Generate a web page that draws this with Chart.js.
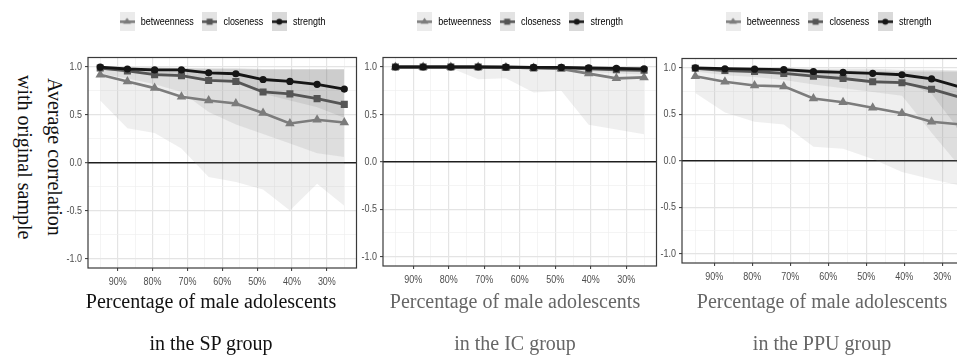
<!DOCTYPE html>
<html>
<head>
<meta charset="utf-8">
<script src="https://cdn.jsdelivr.net/npm/chart.js@4.4.1/dist/chart.umd.min.js"></script>
<style>
  html, body { margin: 0; padding: 0; background: #fff; overflow: hidden; width: 957px; height: 358px; }
  .panel { position: absolute; top: 0; height: 300px; }
  .caption { position: absolute; top: 280px; width: 320px; font-family: "Liberation Serif", "Times New Roman", serif; font-size: 20px; line-height: 42px; text-align: center; }
  #ytitle { position: absolute; left: 10px; top: 22px; width: 60px; height: 270px; writing-mode: vertical-rl; font-family: "Liberation Serif", "Times New Roman", serif; font-size: 20px; line-height: 30px; text-align: center; color: #111; }
</style>
</head>
<body>
<div id="ytitle">Average correlation<br>with original sample</div>
<div class="panel" style="left:0px;width:362px"><canvas id="chart_sp"></canvas></div>
<div class="panel" style="left:300px;width:362px"><canvas id="chart_ic"></canvas></div>
<div class="panel" style="left:620px;width:360px"><canvas id="chart_ppu"></canvas></div>
<div class="caption" style="left:51px;color:#111">Percentage of male adolescents<br>in the SP group</div>
<div class="caption" style="left:355px;color:#666">Percentage of male adolescents<br>in the IC group</div>
<div class="caption" style="left:662px;color:#666">Percentage of male adolescents<br>in the PPU group</div>

<script>
// sampled proportion of cases (bootnet case-dropping, 95% -> 25%)
const casePct = [95, 87.2, 79.4, 71.7, 63.9, 56.1, 48.3, 40.6, 32.8, 25];
const xTickValues = [90, 80, 70, 60, 50, 40, 30];
const xTickLabels = ['90%', '80%', '70%', '60%', '50%', '40%', '30%'];
const xGridValues = [25, 30, 35, 40, 45, 50, 55, 60, 65, 70, 75, 80, 85, 90, 95];
const yTickValues = [-1, -0.5, 0, 0.5, 1];
const yGridValues = [-1, -0.75, -0.5, -0.25, 0, 0.25, 0.5, 0.75, 1];
const measures = ['betweenness', 'closeness', 'strength'];

// SP group
const spBetweenness   = [0.92, 0.85, 0.78, 0.69, 0.65, 0.62, 0.52, 0.41, 0.45, 0.42];
const spBetweennessLo = [0.65, 0.36, 0.31, 0.15, -0.15, -0.20, -0.28, -0.50, -0.22, -0.45];
const spBetweennessHi = [0.99, 0.99, 0.98, 0.98, 0.98, 0.98, 0.98, 0.98, 0.98, 0.98];
const spCloseness     = [0.99, 0.96, 0.92, 0.91, 0.86, 0.85, 0.74, 0.72, 0.67, 0.61];
const spClosenessLo   = [0.93, 0.88, 0.82, 0.74, 0.53, 0.40, 0.30, 0.20, 0.10, 0.06];
const spClosenessHi   = [1.00, 0.99, 0.99, 0.99, 0.98, 0.98, 0.97, 0.97, 0.97, 0.97];
const spStrength      = [1.00, 0.98, 0.97, 0.97, 0.94, 0.93, 0.87, 0.85, 0.82, 0.77];
const spStrengthLo    = [0.97, 0.95, 0.93, 0.91, 0.86, 0.83, 0.72, 0.65, 0.58, 0.47];
const spStrengthHi    = [1.00, 1.00, 1.00, 0.99, 0.99, 0.99, 0.98, 0.98, 0.98, 0.98];

// IC group
const icBetweenness   = [1.00, 1.00, 1.00, 1.00, 0.995, 0.99, 0.98, 0.93, 0.88, 0.89];
const icBetweennessLo = [1.00, 1.00, 0.99, 0.87, 0.88, 0.73, 0.75, 0.39, 0.34, 0.29];
const icBetweennessHi = [1.00, 1.00, 1.00, 1.00, 1.00, 1.00, 1.00, 1.00, 1.00, 1.00];
const icCloseness     = [1.00, 1.00, 1.00, 1.00, 0.995, 0.99, 0.99, 0.98, 0.97, 0.965];
const icClosenessLo   = [1.00, 1.00, 1.00, 0.99, 0.99, 0.98, 0.97, 0.95, 0.93, 0.92];
const icClosenessHi   = [1.00, 1.00, 1.00, 1.00, 1.00, 1.00, 1.00, 1.00, 1.00, 1.00];
const icStrength      = [1.00, 1.00, 1.00, 1.00, 1.00, 0.995, 0.995, 0.99, 0.985, 0.98];
const icStrengthLo    = [1.00, 1.00, 1.00, 0.99, 0.99, 0.99, 0.98, 0.97, 0.96, 0.95];
const icStrengthHi    = [1.00, 1.00, 1.00, 1.00, 1.00, 1.00, 1.00, 1.00, 1.00, 1.00];

// PPU group
const ppuBetweenness   = [0.91, 0.85, 0.81, 0.80, 0.67, 0.63, 0.57, 0.51, 0.42, 0.39];
const ppuBetweennessLo = [0.73, 0.52, 0.42, 0.39, 0.15, 0.13, 0.02, -0.12, -0.20, -0.27];
const ppuBetweennessHi = [0.99, 0.98, 0.97, 0.97, 0.97, 0.97, 0.96, 0.96, 0.96, 0.96];
const ppuCloseness     = [0.995, 0.97, 0.96, 0.94, 0.91, 0.885, 0.85, 0.84, 0.77, 0.68];
const ppuClosenessLo   = [0.96, 0.92, 0.90, 0.87, 0.82, 0.78, 0.74, 0.70, 0.30, -0.08];
const ppuClosenessHi   = [1.00, 0.99, 0.99, 0.98, 0.98, 0.97, 0.97, 0.96, 0.96, 0.96];
const ppuStrength      = [1.00, 0.99, 0.985, 0.98, 0.96, 0.95, 0.94, 0.925, 0.88, 0.79];
const ppuStrengthLo    = [0.98, 0.97, 0.96, 0.95, 0.92, 0.90, 0.88, 0.85, 0.72, 0.30];
const ppuStrengthHi    = [1.00, 1.00, 1.00, 1.00, 0.99, 0.99, 0.99, 0.98, 0.98, 0.97];

const sans = '"Liberation Sans", Arial, sans-serif';
const squeeze = 0.78; // the figure uses a condensed grotesque; no narrow face is installed

// styles per measure
const lineColors = { betweenness: '#7c7c7c', closeness: '#555555', strength: '#161616' };
const bandColors = { betweenness: 'rgba(150,150,150,0.15)', closeness: 'rgba(110,110,110,0.13)', strength: 'rgba(60,60,60,0.12)' };
const keyColors  = { betweenness: '#ebebeb', closeness: '#e3e3e3', strength: '#d9d9d9' };
const markers    = { betweenness: ['triangle', 5.5], closeness: ['rect', 5], strength: ['circle', 3.6] };
const lineOrder  = { betweenness: 3, closeness: 2, strength: 1 };

// legend key: grey ribbon box with line + marker, like ggplot
function keyImage(m) {
  const c = document.createElement('canvas');
  c.width = 15; c.height = 19;
  const g = c.getContext('2d');
  g.fillStyle = keyColors[m];
  g.fillRect(0, 0, 15, 19);
  g.strokeStyle = lineColors[m];
  g.lineWidth = 2.5;
  g.beginPath(); g.moveTo(0, 9.5); g.lineTo(15, 9.5); g.stroke();
  g.fillStyle = lineColors[m];
  g.beginPath();
  if (m === 'betweenness') { g.moveTo(7.5, 5.5); g.lineTo(11.5, 11.5); g.lineTo(3.5, 11.5); g.closePath(); }
  else if (m === 'closeness') { g.rect(4.5, 6.5, 6, 6); }
  else { g.arc(7.5, 9.5, 3, 0, Math.PI * 2); }
  g.fill();
  return c;
}
const keyImages = measures.map(keyImage);

function pts(ys) { return casePct.map((x, i) => ({ x, y: ys[i] })); }

function buildDatasets(series) {
  const ds = [];
  measures.forEach(m => {
    const s = series[m];
    ds.push({ data: pts(s.lo), xAxisID: 'x', yAxisID: 'y', borderWidth: 0, pointRadius: 0, fill: false, order: 10 });
    ds.push({ data: pts(s.hi), xAxisID: 'x', yAxisID: 'y', borderWidth: 0, pointRadius: 0, fill: '-1', backgroundColor: bandColors[m], order: 10 });
  });
  measures.forEach(m => {
    const s = series[m];
    ds.push({
      label: m, data: pts(s.mean), xAxisID: 'x', yAxisID: 'y',
      borderColor: lineColors[m], backgroundColor: lineColors[m],
      borderWidth: m === 'betweenness' ? 2.6 : 2.8,
      pointStyle: markers[m][0], pointRadius: markers[m][1], pointBorderWidth: 0,
      fill: false, tension: 0, order: lineOrder[m]
    });
  });
  return ds;
}

// condensed sans text: squeeze glyphs horizontally around their anchor
const condensedPlugin = {
  id: 'condensed',
  beforeInit(chart) {
    const ctx = chart.ctx;
    const fill = ctx.fillText.bind(ctx);
    const measure = ctx.measureText.bind(ctx);
    ctx.fillText = (t, x, y, w) => {
      ctx.save(); ctx.translate(x, y); ctx.scale(squeeze, 1); fill(t, 0, 0); ctx.restore();
    };
    ctx.measureText = t => {
      const m = measure(t);
      return { width: m.width * squeeze, actualBoundingBoxAscent: m.actualBoundingBoxAscent, actualBoundingBoxDescent: m.actualBoundingBoxDescent };
    };
  }
};

const framePlugin = {
  id: 'frame',
  afterDatasetsDraw(chart) {
    const { ctx, chartArea: a } = chart;
    ctx.save();
    ctx.strokeStyle = '#3a3a3a';
    ctx.lineWidth = 1.2;
    ctx.strokeRect(a.left, a.top, a.right - a.left, a.bottom - a.top);
    ctx.restore();
  }
};

function makeChart(id, series, geo) {
  return new Chart(document.getElementById(id), {
    type: 'line',
    data: { datasets: buildDatasets(series) },
    plugins: [condensedPlugin, framePlugin],
    options: {
      responsive: true,
      maintainAspectRatio: false,
      animation: false,
      layout: { padding: { top: 8, right: geo.padRight, bottom: 0, left: 0 } },
      plugins: {
        tooltip: { enabled: false },
        legend: {
          position: 'top',
          fullSize: false,
          labels: {
            usePointStyle: true,
            pointStyleWidth: 16,
            padding: 8,
            color: '#1a1a1a',
            font: { family: sans, size: 11.5 },
            generateLabels: () => measures.map((m, i) => ({
              text: m, pointStyle: keyImages[i], fillStyle: 'transparent',
              strokeStyle: 'transparent', lineWidth: 0, hidden: false
            }))
          }
        }
      },
      scales: {
        x: {
          type: 'linear', position: 'bottom', reverse: true, min: 21.5, max: 98.5,
          afterBuildTicks: s => { s.ticks = xGridValues.map(v => ({ value: v })); },
          afterFit: s => { s.height = geo.xHeight; },
          border: { display: false },
          grid: {
            color: c => xTickValues.includes(c.tick.value) ? '#e4e4e4' : '#efefef',
            lineWidth: c => xTickValues.includes(c.tick.value) ? 1.2 : 0.7,
            tickColor: c => xTickValues.includes(c.tick.value) ? '#333' : 'rgba(0,0,0,0)',
            tickLength: 3, tickWidth: 1
          },
          ticks: {
            autoSkip: false, maxRotation: 0, padding: 4,
            color: '#4d4d4d', font: { family: sans, size: 11.5 },
            callback: v => { const i = xTickValues.indexOf(v); return i >= 0 ? xTickLabels[i] : ''; }
          }
        },
        y: {
          type: 'linear', position: 'left', min: -1.1, max: 1.1,
          afterBuildTicks: s => { s.ticks = yGridValues.map(v => ({ value: v })); },
          afterFit: s => { s.width = geo.yWidth; },
          border: { display: false },
          grid: {
            color: c => c.tick.value === 0 ? '#1e1e1e' : (yTickValues.includes(c.tick.value) ? '#e4e4e4' : '#efefef'),
            lineWidth: c => c.tick.value === 0 ? 1.4 : (yTickValues.includes(c.tick.value) ? 1.2 : 0.7),
            tickColor: c => yTickValues.includes(c.tick.value) ? '#333' : 'rgba(0,0,0,0)',
            tickLength: 3, tickWidth: 1
          },
          ticks: {
            padding: 3, color: '#4d4d4d', font: { family: sans, size: 11.5 },
            callback: v => yTickValues.includes(v) ? v.toFixed(1) : ''
          }
        },
        // empty spacer between legend and panel
        gap: {
          type: 'linear', position: 'top', display: true,
          ticks: { display: false }, grid: { display: false, drawTicks: false }, border: { display: false },
          afterFit: s => { s.height = geo.gap; }
        }
      }
    }
  });
}

makeChart('chart_sp', {
  betweenness: { mean: spBetweenness, lo: spBetweennessLo, hi: spBetweennessHi },
  closeness: { mean: spCloseness, lo: spClosenessLo, hi: spClosenessHi },
  strength: { mean: spStrength, lo: spStrengthLo, hi: spStrengthHi }
}, { padRight: 4, yWidth: 88, xHeight: 32, gap: 20 });

makeChart('chart_ic', {
  betweenness: { mean: icBetweenness, lo: icBetweennessLo, hi: icBetweennessHi },
  closeness: { mean: icCloseness, lo: icClosenessLo, hi: icClosenessHi },
  strength: { mean: icStrength, lo: icStrengthLo, hi: icStrengthHi }
}, { padRight: 3, yWidth: 83, xHeight: 34, gap: 20 });

makeChart('chart_ppu', {
  betweenness: { mean: ppuBetweenness, lo: ppuBetweennessLo, hi: ppuBetweennessHi },
  closeness: { mean: ppuCloseness, lo: ppuClosenessLo, hi: ppuClosenessHi },
  strength: { mean: ppuStrength, lo: ppuStrengthLo, hi: ppuStrengthHi }
}, { padRight: 4, yWidth: 62, xHeight: 37, gap: 21 });
</script>
</body>
</html>
